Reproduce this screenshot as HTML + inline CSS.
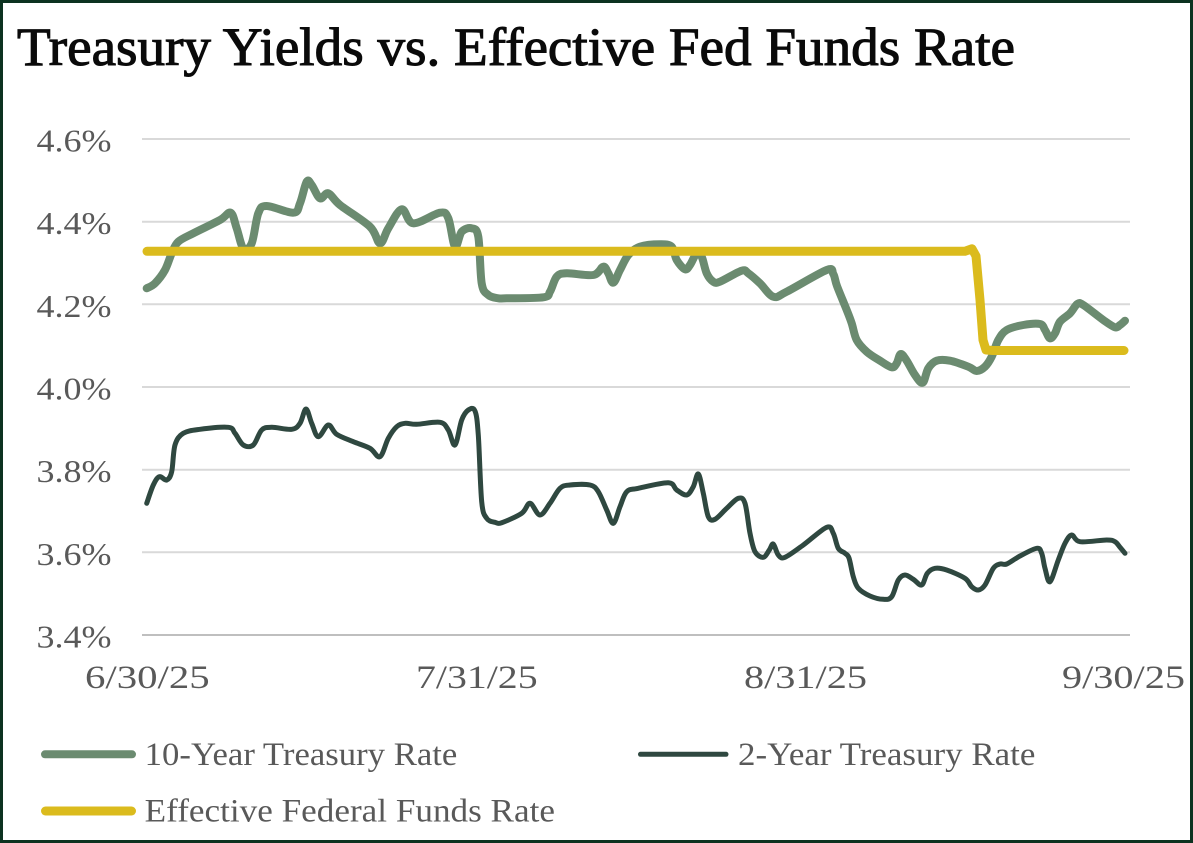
<!DOCTYPE html>
<html>
<head>
<meta charset="utf-8">
<style>
  html, body { margin: 0; padding: 0; background: #ffffff; }
  body { width: 1193px; height: 843px; overflow: hidden; }
  svg { display: block; }
  text { font-family: "Liberation Serif", "DejaVu Serif", serif; }
</style>
</head>
<body>
<svg id="chart" width="1193" height="843" viewBox="0 0 1193 843" xmlns="http://www.w3.org/2000/svg">
  <!-- background and border -->
  <rect x="0" y="0" width="1193" height="843" fill="#ffffff"/>
  <rect x="1.5" y="1.5" width="1190" height="840" fill="none" stroke="#0c3220" stroke-width="3"/>

  <!-- title -->
  <text x="17" y="65" font-size="54" font-weight="normal" fill="#0a0a0a" stroke="#0a0a0a" stroke-width="1.1" textLength="998" lengthAdjust="spacingAndGlyphs">Treasury Yields vs. Effective Fed Funds Rate</text>

  <!-- gridlines -->
  <g stroke="#d9d9d9" stroke-width="2">
    <line x1="142" y1="139" x2="1130" y2="139"/>
    <line x1="142" y1="221.7" x2="1130" y2="221.7"/>
    <line x1="142" y1="304.3" x2="1130" y2="304.3"/>
    <line x1="142" y1="387" x2="1130" y2="387"/>
    <line x1="142" y1="469.7" x2="1130" y2="469.7"/>
    <line x1="142" y1="552.3" x2="1130" y2="552.3"/>
  </g>
  <line x1="142" y1="635" x2="1130" y2="635" stroke="#bfbfbf" stroke-width="2"/>

  <!-- y axis labels -->
  <g font-size="32" fill="#595959">
    <text x="36.5" y="151.5" textLength="75" lengthAdjust="spacingAndGlyphs">4.6%</text>
    <text x="36.5" y="234.2" textLength="75" lengthAdjust="spacingAndGlyphs">4.4%</text>
    <text x="36.5" y="316.8" textLength="75" lengthAdjust="spacingAndGlyphs">4.2%</text>
    <text x="36.5" y="399.5" textLength="75" lengthAdjust="spacingAndGlyphs">4.0%</text>
    <text x="36.5" y="482.2" textLength="75" lengthAdjust="spacingAndGlyphs">3.8%</text>
    <text x="36.5" y="564.8" textLength="75" lengthAdjust="spacingAndGlyphs">3.6%</text>
    <text x="36.5" y="647.5" textLength="75" lengthAdjust="spacingAndGlyphs">3.4%</text>
  </g>

  <!-- x axis labels -->
  <g font-size="33" fill="#595959">
    <text x="85" y="688" textLength="124.7" lengthAdjust="spacingAndGlyphs">6/30/25</text>
    <text x="416" y="688" textLength="121.6" lengthAdjust="spacingAndGlyphs">7/31/25</text>
    <text x="744" y="688" textLength="123" lengthAdjust="spacingAndGlyphs">8/31/25</text>
    <text x="1062" y="688" textLength="123" lengthAdjust="spacingAndGlyphs">9/30/25</text>
  </g>

  <!-- 2-Year Treasury -->
  <polyline class="smooth" fill="none" stroke="#2f4840" stroke-width="5" stroke-linejoin="round" stroke-linecap="round"
    points="146.7,503.3 153.3,485 159.3,476.7 166.7,480 171.7,471.7 175,445 183.3,433.3 200,429.3 228.3,427.3 235,433.3 243.3,445 253.3,445 261.7,430 271.7,427.3 291.7,429.3 300,423.3 306,409 311.7,423.3 318.3,436.7 328.3,425 336.7,434.3 353.3,441.7 370,448.3 380,456.7 388.3,438.3 396.7,426.7 405,423.3 416.7,424.3 440,422.3 448.3,430 455,445 461.7,420 468.3,410 475,411 478.3,435 481.7,501.7 486.7,518.3 495,522.3 501.7,522.7 521.7,513.3 530,503.3 540,515 550,503.3 560,488.3 570,485 590,485 598.3,491.7 606.7,510 613.3,523.3 620,506.7 626.7,491.7 638.3,488.3 668.3,482.7 676.7,490 686.7,495 693.3,486.7 698.3,474 703.3,493.3 708.3,516.7 715,519.3 726.7,508.3 738.3,498.3 745,503.3 750,533.3 755,551.7 763.3,557.3 769.3,550 773.3,544 778.3,555 785,557.3 803.3,545 826.7,527.3 833.3,533.3 838.3,548.3 845,553.3 849,558 853.3,576.7 858.3,588.3 870,596 883.3,599.3 891.7,596.7 898.3,580 905,575 913.3,579.3 921.7,585 927.3,573.3 935,568.3 946.7,570 965,578.3 971.7,586.7 978.3,590 985,585 993.3,568.3 1000,564 1006.7,564 1020,556 1036.7,548.3 1041.7,553.3 1045,568.3 1050,581.7 1058.3,560 1065,543.3 1071.7,535 1080,541.7 1106.7,540 1115,541.7 1120,547.3 1125,553.3"/>

  <!-- 10-Year Treasury -->
  <polyline class="smooth" fill="none" stroke="#6b8b70" stroke-width="8" stroke-linejoin="round" stroke-linecap="round"
    points="146.7,288.3 155,283.3 165,270 171.7,253.3 178.3,241.7 193.3,233.3 220,220 230.7,212.7 236.7,228.3 243.3,248.3 251.7,243.3 258.3,213.3 266.7,206 293.3,212.7 300,203.3 306.7,181.7 311.7,185 320,198.3 328.3,193.3 340,205 370,226.7 380,243.3 388.3,228.3 401.7,209.3 413.3,223.3 440,212.7 448.3,218.3 455,246.7 461.7,231.7 471.7,228.3 478.3,236.7 481.7,283.3 488.3,295 498.3,298.3 506.7,298.3 543.3,297.3 550,291.7 556.7,276.7 566.7,273.3 593.3,275 603.3,266.7 608.3,273.3 613.3,282.7 620,270 628.3,255 640,246.7 660,244.3 671.7,246.7 676.7,260 685,269.3 690,265 696.7,253.3 701.7,256.7 706.7,273.3 713.3,281.7 720,281.7 741.7,270.7 748.3,273.3 760,283.3 773.3,296.7 786.7,291.7 826.7,270 833.3,274 837,286 846.7,310 851.7,323.3 856.7,340 866.7,351.7 880,360.7 891.7,367.3 896.7,363.3 900.7,354 906.7,360.7 915,375 922.7,382.7 928.3,368.3 936.7,360.7 950,360.7 968.3,366.7 976.7,371 985,366.7 991.7,356.7 998.3,340 1006.7,330 1023.3,325 1040,324 1045,330 1050,338.3 1055,333.3 1060,321.7 1070,313.3 1077.3,304 1083.3,305 1103.3,320 1115,327.3 1120,325 1125,320.7"/>

  <!-- Effective Fed Funds -->
  <polyline fill="none" stroke="#dbbb1d" stroke-width="9" stroke-linejoin="round" stroke-linecap="round"
    points="147,251.3 965,251.3 972,248.8 976,256 980,300 983,340 986,350 993,350.5 1124,350.5"/>

  <!-- legend -->
  <line x1="45" y1="754.3" x2="132" y2="754.3" stroke="#6b8b70" stroke-width="8" stroke-linecap="round"/>
  <line x1="640.5" y1="754.3" x2="726" y2="754.3" stroke="#2f4840" stroke-width="5" stroke-linecap="round"/>
  <line x1="45.5" y1="811" x2="131.5" y2="811" stroke="#dbbb1d" stroke-width="9" stroke-linecap="round"/>
  <g font-size="33" fill="#595959">
    <text x="144.7" y="765" textLength="312.6" lengthAdjust="spacingAndGlyphs">10-Year Treasury Rate</text>
    <text x="738" y="765" textLength="297.4" lengthAdjust="spacingAndGlyphs">2-Year Treasury Rate</text>
    <text x="144.7" y="821.7" textLength="410.3" lengthAdjust="spacingAndGlyphs">Effective Federal Funds Rate</text>
  </g>
</svg>
<script>
(function(){
  var NS = "http://www.w3.org/2000/svg";
  var polys = document.querySelectorAll("polyline.smooth");
  for (var i = 0; i < polys.length; i++) {
    var pl = polys[i];
    var raw = pl.getAttribute("points").trim().split(/\s+/);
    var p = raw.map(function(s){ var a = s.split(","); return [parseFloat(a[0]), parseFloat(a[1])]; });
    if (p.length < 3) continue;
    var t = 0.5, d = "M" + p[0][0] + "," + p[0][1];
    for (var k = 0; k < p.length - 1; k++) {
      var p0 = p[k > 0 ? k - 1 : 0], p1 = p[k], p2 = p[k + 1], p3 = p[k + 2 < p.length ? k + 2 : p.length - 1];
      var c1x = p1[0] + (p2[0] - p0[0]) * t / 3, c1y = p1[1] + (p2[1] - p0[1]) * t / 3;
      var c2x = p2[0] - (p3[0] - p1[0]) * t / 3, c2y = p2[1] - (p3[1] - p1[1]) * t / 3;
      d += " C" + c1x.toFixed(2) + "," + c1y.toFixed(2) + " " + c2x.toFixed(2) + "," + c2y.toFixed(2) + " " + p2[0] + "," + p2[1];
    }
    var path = document.createElementNS(NS, "path");
    path.setAttribute("d", d);
    ["fill","stroke","stroke-width","stroke-linejoin","stroke-linecap"].forEach(function(a){ path.setAttribute(a, pl.getAttribute(a)); });
    pl.parentNode.replaceChild(path, pl);
  }
})();
</script>
</body>
</html>
